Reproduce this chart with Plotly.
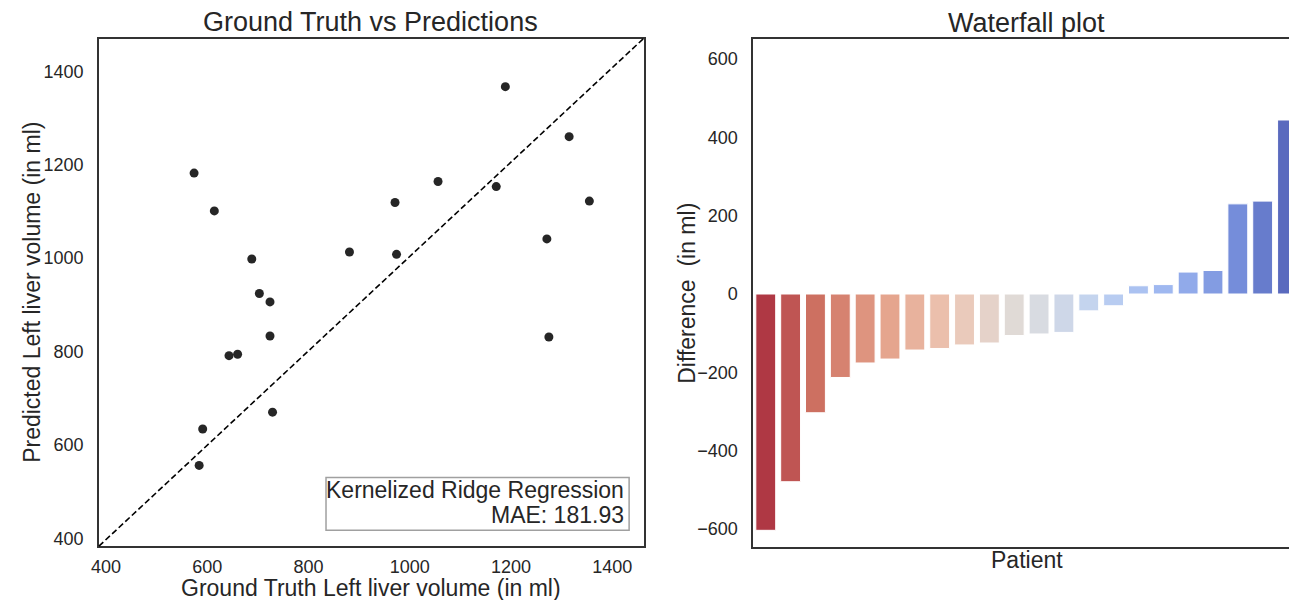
import colorsys
import plotly.graph_objects as go
from plotly.colors import sample_colorscale

# ---------------- data ----------------
ground_truth = [574, 614, 688, 881, 1189, 1315, 1056, 1171, 971, 1355, 974,
                1271, 703, 724, 724, 643, 660, 729, 591, 584, 1275]
predicted = [1182, 1101, 998, 1013, 1367, 1260, 1164, 1153, 1119, 1122, 1008,
             1041, 924, 906, 833, 791, 794, 670, 634, 556, 831]
difference = [-603, -479, -303, -213, -176, -166, -143, -139, -130, -125, -106,
              -102, -98, -43, -30, 21, 24, 56, 60, 230, 237, 444]
scatter_ticks = [400, 600, 800, 1000, 1200, 1400]
diff_ticks = [-600, -400, -200, 0, 200, 400, 600]
model_name = "Kernelized Ridge Regression"
mae_text = "MAE: 181.93"

# ---------------- styling helpers ----------------
W, H = 1289, 600
TXT = "#262626"
FONT = "Liberation Sans, Arial, sans-serif"

def px_x(p):
    return p / W

def px_y(p):
    return 1 - p / H

# coolwarm anchor points (Moreland), reversed + desaturated like seaborn
coolwarm = [
    [0.0, "rgb(59,76,192)"], [0.125, "rgb(98,130,234)"], [0.25, "rgb(141,176,254)"],
    [0.375, "rgb(184,208,249)"], [0.5, "rgb(221,221,221)"], [0.625, "rgb(245,196,173)"],
    [0.75, "rgb(244,154,123)"], [0.875, "rgb(222,96,77)"], [1.0, "rgb(180,4,38)"],
]
n = len(difference)
positions = [1 - (k + 1) / (n + 1) for k in range(n)]
raw = sample_colorscale(coolwarm, positions)

def desat(c, f=0.75):
    vals = [float(v) / 255 for v in c[c.index("(") + 1:-1].split(",")]
    h, l, s = colorsys.rgb_to_hls(*vals)
    r, g, b = colorsys.hls_to_rgb(h, l, s * f)
    return "rgb(%d,%d,%d)" % (round(r * 255), round(g * 255), round(b * 255))

bar_colors = [desat(c) for c in raw]

fig = go.Figure()

fig.add_trace(go.Scatter(
    x=ground_truth, y=predicted, mode="markers",
    marker=dict(color=TXT, size=9), xaxis="x", yaxis="y", showlegend=False,
))

fig.add_trace(go.Bar(
    x=list(range(n)), y=difference, width=0.8,
    marker=dict(color=bar_colors, line=dict(color="white", width=1)),
    xaxis="x2", yaxis="y2", showlegend=False,
))

axis_common = dict(showgrid=False, zeroline=False, ticks="", showline=True,
                   linecolor="#333333", linewidth=1.8,
                   tickfont=dict(family=FONT, size=18, color=TXT))

fig.update_layout(
    width=W, height=H,
    margin=dict(l=0, r=0, t=0, b=0),
    paper_bgcolor="white", plot_bgcolor="white",
    font=dict(family=FONT, color=TXT),
    xaxis=dict(domain=[px_x(91.5), px_x(639.5)], range=[386, 1462],
               tickvals=scatter_ticks, mirror=True, anchor="y",
               ticklabelstandoff=3, **axis_common),
    yaxis=dict(domain=[px_y(548), px_y(38.7)], range=[383, 1470],
               tickvals=scatter_ticks, mirror=True, anchor="x",
               ticklabelstandoff=10, **axis_common),
    xaxis2=dict(domain=[px_x(750), 1.0], range=[-0.5, 21.06],
                showticklabels=False, mirror=True, anchor="y2", **axis_common),
    yaxis2=dict(domain=[px_y(549), px_y(39)], range=[-646, 651],
                tickvals=diff_ticks, mirror=False, anchor="x2",
                ticklabelstandoff=10, **axis_common),
    bargap=0.2,
)

# identity reference line (axes-corner to axes-corner)
fig.add_shape(type="line", xref="x domain", yref="y domain", x0=0, y0=0, x1=1, y1=1,
              line=dict(color="black", width=1.6, dash="6px,3px"))

# text box frame (like a matplotlib anchored text)
fig.add_shape(type="rect", xref="paper", yref="paper",
              x0=px_x(320), x1=px_x(625), y0=px_y(532), y1=px_y(479),
              line=dict(color="#a0a0a0", width=1.5), fillcolor="white", layer="above")

annos = [
    dict(text="Ground Truth vs Predictions", x=px_x(365), y=px_y(22), font_size=27),
    dict(text="Waterfall plot", x=px_x(1025), y=px_y(23), font_size=27),
    dict(text="Ground Truth Left liver volume (in ml)", x=px_x(365), y=px_y(590), font_size=23),
    dict(text="Predicted Left liver volume (in ml)", x=px_x(24), y=px_y(293), font_size=23,
         textangle=-90),
    dict(text="Patient", x=px_x(1025), y=px_y(562), font_size=23),
    dict(text="Difference  (in ml)", x=px_x(683), y=px_y(294), font_size=23, textangle=-90),
]
for a in annos:
    fig.add_annotation(xref="paper", yref="paper", showarrow=False,
                       xanchor="center", yanchor="middle",
                       font=dict(family=FONT, color=TXT, size=a.pop("font_size")), **a)

for txt, yc in [(model_name, 492), (mae_text, 517)]:
    fig.add_annotation(
        xref="paper", yref="paper", x=px_x(622), y=px_y(yc), xanchor="right",
        yanchor="middle", text=txt, align="right", showarrow=False,
        font=dict(family=FONT, color=TXT, size=23),
    )

fig.write_html(
    "out.html",
    config={"displayModeBar": False},
    post_script="document.body.style.margin='0';document.body.style.overflow='hidden';",
)
